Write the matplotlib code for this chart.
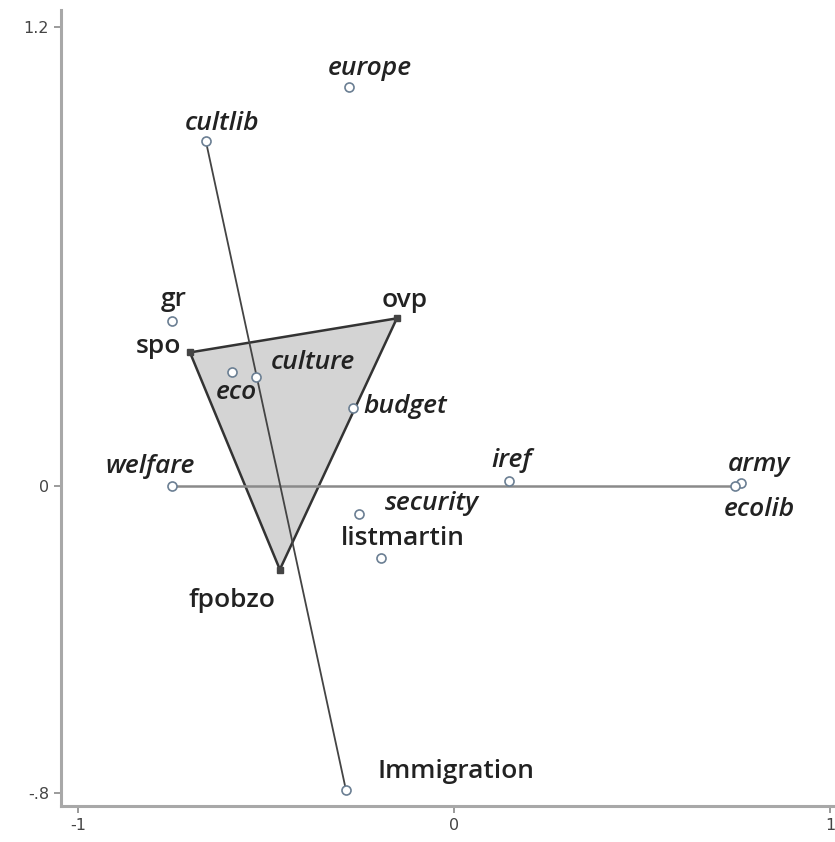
import matplotlib
matplotlib.use('Agg')
from matplotlib import pyplot as plt
from matplotlib.patches import Polygon

# issue / party positions
labels = ['europe', 'cultlib', 'gr', 'spo', 'ovp', 'culture', 'eco', 'budget',
          'welfare', 'iref', 'army', 'ecolib', 'security', 'listmartin',
          'fpobzo', 'Immigration']
xs = [-0.279, -0.660, -0.750, -0.702, -0.152, -0.527, -0.590, -0.269,
      -0.750, 0.146, 0.763, 0.747, -0.253, -0.194, -0.463, -0.287]
ys = [1.043, 0.903, 0.433, 0.350, 0.439, 0.287, 0.298, 0.206,
      0.0, 0.014, 0.008, 0.0, -0.073, -0.188, -0.217, -0.794]
italic = [True, True, False, False, False, True, True, True,
          True, True, True, True, True, False, False, False]

parties = ['spo', 'ovp', 'fpobzo']
axis_h = ['welfare', 'ecolib']
axis_v = ['cultlib', 'Immigration']

xticks = [-1, 0, 1]
xticklabels = ['-1', '0', '1']
yticks = [-0.8, 0, 1.2]
yticklabels = ['-.8', '0', '1.2']

# label offsets in pixels (text centre relative to the point)
offsets = {'europe': (21, 19), 'cultlib': (16, 17), 'gr': (2, 21), 'spo': (-32, 6),
           'ovp': (8, 18), 'culture': (57, 14), 'eco': (4, -20), 'budget': (52, 1),
           'welfare': (-22, 20), 'iref': (3, 21), 'army': (18, 19), 'ecolib': (24, -23),
           'security': (73, 11), 'listmartin': (22, 20), 'fpobzo': (-48, -31),
           'Immigration': (110, 19)}

pos = dict(zip(labels, zip(xs, ys)))

fig = plt.figure(figsize=(8.35, 8.42), dpi=100)
ax = fig.add_axes([0.073, 0.043, 0.927, 0.945])

# party triangle
tri = Polygon([pos[p] for p in parties], closed=True, facecolor='#d4d4d4',
              edgecolor='#333333', linewidth=1.8, zorder=1)
ax.add_patch(tri)

# dimension lines
ax.plot([pos[p][0] for p in axis_h], [pos[p][1] for p in axis_h],
        color='#8a8a8a', linewidth=1.8, zorder=2)
ax.plot([pos[p][0] for p in axis_v], [pos[p][1] for p in axis_v],
        color='#444444', linewidth=1.3, zorder=2)

for lab, x, y, it in zip(labels, xs, ys, italic):
    if lab in parties:
        ax.plot(x, y, marker='s', markersize=4, color='#444444', zorder=3)
    else:
        ax.plot(x, y, marker='o', markersize=6.5, markerfacecolor='white',
                markeredgecolor='#6b7f93', markeredgewidth=1.2, zorder=3)
    ax.annotate(lab, (x, y), xytext=offsets[lab], textcoords='offset pixels',
                ha='center', va='center', fontsize=19, color='#222222',
                style='italic' if it else 'normal', weight='semibold',
                family=['Open Sans', 'DejaVu Sans'])

ax.set_xlim(-1.045, 1.013)
ax.set_ylim(-0.834, 1.244)
ax.set_xticks(xticks)
ax.set_xticklabels(xticklabels)
ax.set_yticks(yticks)
ax.set_yticklabels(yticklabels)
ax.tick_params(colors='#8a8a8a', labelcolor='#444444', labelsize=11.5, length=5, width=1.2)

for s in ['top', 'right']:
    ax.spines[s].set_visible(False)
for s in ['left', 'bottom']:
    ax.spines[s].set_color('#a8a8a8')
    ax.spines[s].set_linewidth(2.2)

fig.savefig('out.png', dpi=100)
